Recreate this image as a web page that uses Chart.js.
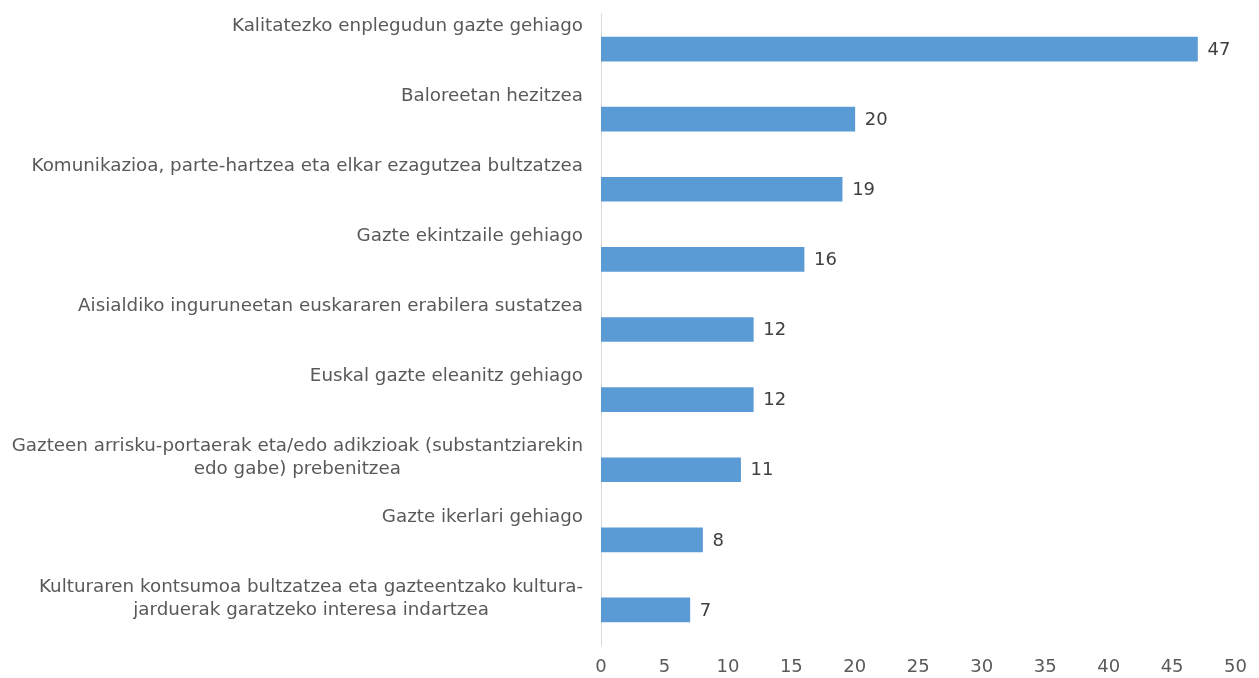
<!DOCTYPE html>
<html>
<head>
<meta charset="utf-8">
<script src="https://cdn.jsdelivr.net/npm/chart.js@4"></script>
<style>
  html, body { margin: 0; padding: 0; background: #fff; }
  #wrap { width: 1259px; height: 678px; }
</style>
</head>
<body>
<div id="wrap"><canvas id="c" width="1259" height="678"></canvas></div>
<script>
const categories = [
  ["Kalitatezko enplegudun gazte gehiago"],
  ["Baloreetan hezitzea"],
  ["Komunikazioa, parte-hartzea eta elkar ezagutzea bultzatzea"],
  ["Gazte ekintzaile gehiago"],
  ["Aisialdiko inguruneetan euskararen erabilera sustatzea"],
  ["Euskal gazte eleanitz gehiago"],
  ["Gazteen arrisku-portaerak eta/edo adikzioak (substantziarekin", "edo gabe) prebenitzea"],
  ["Gazte ikerlari gehiago"],
  ["Kulturaren kontsumoa bultzatzea eta gazteentzako kultura-", "jarduerak garatzeko interesa indartzea"]
];
const values = [47, 20, 19, 16, 12, 12, 11, 8, 7];
const xTicks = [0, 5, 10, 15, 20, 25, 30, 35, 40, 45, 50];

const FONT = "'DejaVu Sans', Verdana, sans-serif";

const labelPlugin = {
  id: 'customLabels',
  afterDraw(chart) {
    const ctx = chart.ctx;
    const y = chart.scales.y;
    const area = chart.chartArea;
    ctx.save();
    ctx.font = "18.3px " + FONT;
    ctx.fillStyle = "#595959";
    ctx.textBaseline = "middle";
    const rightX = area.left - 18;
    categories.forEach((lines, i) => {
      const c = y.getPixelForTick(i);
      let w = 0;
      lines.forEach(l => { w = Math.max(w, ctx.measureText(l).width); });
      const cx = rightX - w / 2;
      ctx.textAlign = "center";
      lines.forEach((l, k) => {
        ctx.fillText(l, cx, c - 23 + k * 23);
      });
    });
    const meta = chart.getDatasetMeta(0);
    ctx.font = "18px " + FONT;
    ctx.fillStyle = "#404040";
    ctx.textAlign = "left";
    meta.data.forEach((bar, i) => {
      ctx.fillText(String(values[i]), bar.x + 10, bar.y + 1);
    });
    ctx.restore();
  }
};

new Chart(document.getElementById('c'), {
  type: 'bar',
  data: {
    labels: categories.map(c => c.join(' ')),
    datasets: [{
      data: values,
      backgroundColor: '#5b9bd5',
      borderWidth: 0,
      barThickness: 24
    }]
  },
  options: {
    indexAxis: 'y',
    responsive: false,
    animation: false,
    devicePixelRatio: 1,
    layout: { padding: { left: 601, right: 19, top: 14, bottom: 0 } },
    plugins: { legend: { display: false }, tooltip: { enabled: false } },
    scales: {
      x: {
        min: 0, max: 50,
        afterBuildTicks(scale) { scale.ticks = xTicks.map(v => ({ value: v })); },
        afterFit(scale) { scale.height = 33; },
        grid: { display: false, drawTicks: false },
        border: { display: false },
        ticks: { color: '#595959', font: { family: FONT, size: 18 }, padding: 12, maxRotation: 0 }
      },
      y: {
        grid: { display: false, drawTicks: false },
        border: { display: true, color: '#d9d9d9', width: 1 },
        ticks: { display: false }
      }
    }
  },
  plugins: [labelPlugin]
});
</script>
</body>
</html>
